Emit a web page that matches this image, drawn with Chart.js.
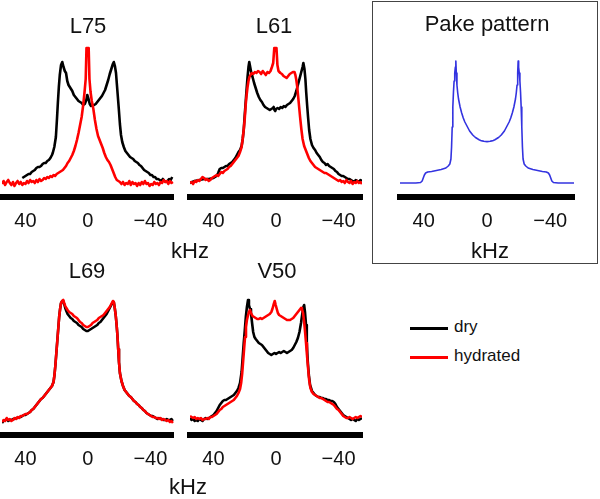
<!DOCTYPE html>
<html>
<head>
<meta charset="utf-8">
<script src="https://cdn.jsdelivr.net/npm/chart.js@4.4.1/dist/chart.umd.min.js"></script>
<style>
  body { margin: 0; background: #fff; }
  #wrap { position: relative; width: 600px; height: 499px; overflow: hidden; font-family: 'Liberation Sans', Arial, sans-serif; color: #111; }
  canvas { position: absolute; }
  .lbl { position: absolute; transform: translate(-50%, -50%); white-space: nowrap; line-height: 1; }
  #pakeBox { position: absolute; left: 372px; top: 1px; width: 226px; height: 263px; border: 1px solid #444; box-sizing: border-box; }
  .legItem { position: absolute; left: 410px; font-size: 17px; }
  .legItem span.sw { position: absolute; left: 0; top: 0; width: 38px; height: 3px; }
  .legItem span.tx { position: absolute; left: 44px; top: 0; transform: translateY(-55%); }
</style>
</head>
<body>
<div id="wrap">
  <div id="pakeBox"></div>
  <canvas id="cL75" width="180" height="245" style="left:0;top:0"></canvas>
  <canvas id="cL61" width="190" height="245" style="left:180px;top:0"></canvas>
  <canvas id="cPake" width="210" height="245" style="left:380px;top:0"></canvas>
  <canvas id="cL69" width="180" height="245" style="left:0;top:238px"></canvas>
  <canvas id="cV50" width="190" height="245" style="left:180px;top:238px"></canvas>
</div>
<script>
// axis ticks (kHz)
const tickValues = [40, 0, -40];
const tickLabels = ['40', '0', '\u221240'];
const seriesNames = ['dry', 'hydrated'];
const seriesColors = ['#000000', '#ff0000'];

// spectra: [frequency kHz, intensity]
const L75_dry = [[42,19],[41,20],[40,21],[39,22],[38,23],[37,23],[36,25],[35,26],[34,27],[33,29],[32,30],[31,30],[30,31],[29,33],[28,34],[27,34],[26,36],[25,37],[24,39],[23,42],[22.5,44],[21.5,50],[20.5,60],[19.8,78],[19.2,95],[18.6,110],[18,122],[17.2,132],[16.4,135],[15.6,130],[14.8,126],[14,124],[13.2,116],[12.4,112],[11.6,110],[10.8,108],[10,106],[9,102],[8,100],[7,98],[6,96],[5,95],[4,94],[3,92],[2,93],[1,97],[0.4,102],[-0.4,98],[-1.2,93],[-2,91],[-3,92],[-4,92],[-5,93],[-6,95],[-7,97],[-8,99],[-9,101],[-10,104],[-11,107],[-12,112],[-13,117],[-14,123],[-15,128],[-16,133],[-16.6,135],[-17.3,131],[-18,124],[-18.6,112],[-19.2,100],[-19.8,88],[-20.5,73],[-21.2,62],[-22,55],[-23,50],[-24,46],[-25,44],[-26,42],[-27,40],[-28,39],[-29,38],[-30,36],[-31,35],[-32,34],[-33,32],[-34,31],[-35,29],[-36,27],[-37,26],[-38,25],[-39,24],[-40,22],[-41,22],[-42,20],[-43,20],[-44,18],[-45,18],[-46,17],[-47,16],[-48,18],[-49,16],[-50,15],[-51,16],[-52,18],[-53,17],[-54,20]];
const L75_hyd = [[55,13],[54,16],[53,12],[52,15],[51,17],[50,14],[49,12],[48,15],[47,11],[46,14],[45,16],[44,13],[43,15],[42,12],[41,14],[40,13],[39,16],[38,14],[37,17],[36,15],[35,16],[34,14],[33,17],[32,15],[31,18],[30,16],[29,17],[28,19],[27,18],[26,20],[25,19],[24,21],[23,20],[22,22],[21,21],[20,23],[19,24],[18,25],[17,26],[16,27],[15,29],[14,31],[13,34],[12,36],[11,39],[10,42],[9,46],[8,51],[7,57],[6,64],[5,72],[4,80],[3,92],[2.2,104],[1.4,118],[0.9,149],[-0.5,149],[-1,118],[-1.7,105],[-2.5,96],[-3.5,88],[-4.5,77],[-5.5,68],[-6.5,61],[-7.5,57],[-8.5,53],[-9.5,49],[-10.5,44],[-11.5,40],[-12.5,37],[-13.5,35],[-14.5,32],[-15.5,28],[-16.5,24],[-17.5,20],[-18.5,17],[-19.5,16],[-20.5,15],[-21.5,13],[-22.5,15],[-23.5,12],[-24.5,14],[-25.5,13],[-26.5,16],[-27.5,12],[-28.5,15],[-29.5,13],[-30.5,14],[-31.5,11],[-32.5,14],[-33.5,12],[-34.5,15],[-35.5,13],[-36.5,16],[-37.5,13],[-38.5,14],[-39.5,11],[-40.5,13],[-41.5,12],[-42.5,15],[-43.5,13],[-44.5,14],[-45.5,12],[-46.5,15],[-47.5,14],[-48.5,17],[-49.5,15],[-50.5,16],[-51.5,13],[-52.5,16],[-53.5,14],[-54.5,15]];

const L61_dry = [[55,14],[52,16],[49,17],[46,18],[43,18],[40,19],[38,21],[37,24],[36,28],[35,29],[34,29],[33,30],[32,31],[31,31],[30,33],[29,34],[28,35],[27,37],[26,39],[25,42],[24,45],[23,47],[22,51],[21.3,58],[20.6,68],[20,82],[19.4,95],[18.8,108],[18.2,120],[17.6,130],[17.1,135],[16.5,130],[15.8,124],[15,120],[14,114],[13,109],[12,104],[11,100],[10,97],[9,95],[8,92],[7,90],[6,89],[5,88],[4,87],[3,88],[2,89],[1.5,90],[1,87],[0.5,86],[0,88],[-1,89],[-2,88],[-3,90],[-4,89],[-5,91],[-6,90],[-7,92],[-8,93],[-9,94],[-10,96],[-11,98],[-12,101],[-13,106],[-14,112],[-15,118],[-16,124],[-17,130],[-17.5,134],[-18.2,128],[-18.8,118],[-19.3,105],[-19.9,92],[-20.5,80],[-21.2,67],[-22,58],[-23,52],[-24,49],[-25,47],[-26,44],[-27,42],[-28,40],[-29,37],[-30,35],[-31,34],[-32,32],[-33,33],[-34,31],[-35,30],[-36,29],[-37,28],[-38,26],[-39,25],[-40,23],[-41,22],[-42,21],[-43,21],[-44,20],[-45,19],[-46,18],[-47,18],[-48,17],[-49,16],[-50,15],[-51,17],[-52,16],[-53,15],[-54,17],[-55,16]];
const L61_hyd = [[55,14],[54,15],[53,13],[52,16],[51,15],[50,17],[49,16],[48,18],[47,20],[46,19],[45,17],[44,18],[43,16],[42,17],[41,19],[40,20],[39,21],[38,22],[37,21],[36,23],[35,25],[34,24],[33,26],[32,27],[31,28],[30,30],[29,31],[28,33],[27,35],[26,37],[25,39],[24,41],[23,45],[22,50],[21.3,58],[20.6,68],[20,78],[19.4,92],[18.8,102],[18.2,110],[17.6,116],[17,120],[16.3,122],[15.5,124],[14.5,123],[13.5,125],[12.5,124],[11.5,126],[10.5,125],[9.5,123],[8.5,126],[7.5,124],[6.5,122],[5.5,125],[4.5,124],[3.5,126],[2.6,130],[1.8,134],[1.1,149],[-0.3,149],[-0.9,132],[-1.6,126],[-2.8,124],[-3.8,123],[-4.8,121],[-5.8,120],[-6.8,119],[-7.8,121],[-8.8,123],[-9.8,124],[-10.8,125],[-11.8,125],[-12.4,122],[-13,117],[-13.6,110],[-14.2,100],[-14.8,90],[-15.4,80],[-16.2,68],[-17,58],[-18,51],[-19,47],[-20,43],[-21,39],[-22,36],[-23,34],[-24,32],[-25,30],[-26,29],[-27,28],[-28,27],[-29,26],[-30,25],[-31,24],[-32,24],[-33,23],[-34,22],[-35,21],[-36,20],[-37,19],[-38,18],[-39,17],[-40,16],[-41,17],[-42,15],[-43,16],[-44,14],[-45,17],[-46,15],[-47,14],[-48,16],[-49,13],[-50,15],[-51,14],[-52,16],[-53,14],[-54,15],[-55,13]];

const pake = [[55,14],[50,14],[45,14],[42,14.5],[41,16],[40.3,19],[39.6,22],[38.8,24],[37.5,25],[35,25.5],[32,26.5],[29,27.5],[26,29],[24.5,31],[23.5,33],[22.8,38],[22.4,50],[22,70],[21.6,90],[21.2,105],[20.8,116],[20.4,124],[20,130],[19.7,136],[19.4,124],[19,112],[18.5,104],[18,98],[17,90],[16,84],[15,79],[14,75],[13,72],[12,69],[11,66],[10,64],[9,62],[8,60.5],[7,59.2],[6,58.2],[5,57.3],[4,56.6],[3,56.1],[2,55.7],[1,55.5],[0,55.4],[-1,55.5],[-2,55.7],[-3,56.1],[-4,56.6],[-5,57.3],[-6,58.2],[-7,59.2],[-8,60.5],[-9,62],[-10,64],[-11,66],[-12,69],[-13,72],[-14,75],[-15,79],[-16,84],[-17,90],[-18,98],[-18.5,104],[-19,112],[-19.4,124],[-19.7,136],[-20,130],[-20.4,124],[-20.8,116],[-21.2,105],[-21.6,90],[-22,70],[-22.4,50],[-22.8,38],[-23.5,33],[-24.5,31],[-26,29],[-29,27.5],[-32,26.5],[-35,25.5],[-37.5,25],[-38.8,24],[-39.6,22],[-40.3,19],[-41,16],[-42,14.5],[-45,14],[-50,14],[-55,14]];

const L69_dry = [[55,12],[54,14],[53,15],[52,16],[51,14],[50,15],[49,15],[48,16],[47,16],[46,17],[45,17],[44,18],[43,18],[42,19],[41,20],[40,20],[39,21],[38,22],[37,23],[36,25],[35,26],[34,28],[33,30],[32,32],[31,34],[30,36],[29,37],[28,39],[27,41],[26,43],[25,45],[24,47],[23,49],[22,53],[21.4,60],[20.8,70],[20.2,82],[19.6,94],[19,106],[18.4,118],[17.8,126],[17.2,132],[16.5,134],[15.8,134],[15.2,131],[14.5,127],[13.8,124],[13,121],[12,119],[11,117],[10,116],[9,114],[8,113],[7,112],[6,110],[5,109],[4,108],[3,106],[2,105],[1,104],[0,104],[-1,105],[-2,106],[-3,107],[-4,108],[-5,109],[-6,110],[-7,112],[-8,113],[-9,115],[-10,117],[-11,119],[-12,121],[-13,124],[-14,127],[-15,130],[-16,133],[-16.6,133],[-17.2,127],[-17.8,120],[-18.4,110],[-18.9,100],[-19.4,86],[-19.9,73],[-20.5,62],[-21.5,54],[-22.5,49],[-23.5,45],[-24.5,43],[-25.5,41],[-26.5,39],[-27.5,38],[-28.5,36],[-29.5,34],[-30.5,33],[-31.5,31],[-32.5,30],[-33.5,28],[-34.5,27],[-35.5,25],[-36.5,24],[-37.5,22],[-38.5,21],[-39.5,20],[-40.5,19],[-41.5,19],[-42.5,18],[-43.5,17],[-44.5,16],[-45.5,17],[-46.5,16],[-47.5,16],[-48.5,15],[-49.5,15],[-50.5,16],[-51.5,15],[-52.5,15],[-53.5,16],[-54.5,14]];
const L69_hyd = [[55,13],[54,15],[53,14],[52,17],[51,15],[50,16],[49,14],[48,15],[47,17],[46,16],[45,18],[44,17],[43,19],[42,19],[41,20],[40,21],[39,21],[38,22],[37,23],[36,25],[35,26],[34,28],[33,30],[32,32],[31,34],[30,36],[29,37],[28,39],[27,41],[26,43],[25,45],[24,47],[23,49],[22,53],[21.4,60],[20.8,70],[20.2,82],[19.6,94],[19,106],[18.4,118],[17.8,126],[17.2,132],[16.5,134],[15.8,135],[15.2,132],[14.5,129],[13.8,127],[13,125],[12,123],[11,122],[10,121],[9,119],[8,118],[7,117],[6,115],[5,113],[4,112],[3,110],[2,109],[1,108],[0,108],[-1,109],[-2,110],[-3,112],[-4,113],[-5,114],[-6,115],[-7,117],[-8,118],[-9,119],[-10,120],[-11,122],[-12,124],[-13,126],[-14,128],[-15,131],[-16,134],[-16.6,133],[-17.2,127],[-17.8,120],[-18.4,110],[-18.9,100],[-19.4,86],[-19.9,73],[-20.5,62],[-21.5,54],[-22.5,49],[-23.5,45],[-24.5,43],[-25.5,41],[-26.5,39],[-27.5,38],[-28.5,36],[-29.5,34],[-30.5,33],[-31.5,31],[-32.5,30],[-33.5,28],[-34.5,27],[-35.5,25],[-36.5,24],[-37.5,22],[-38.5,21],[-39.5,20],[-40.5,19],[-41.5,18],[-42.5,18],[-43.5,17],[-44.5,17],[-45.5,16],[-46.5,17],[-47.5,15],[-48.5,16],[-49.5,15],[-50.5,14],[-51.5,15],[-52.5,13],[-53.5,14],[-54.5,12]];

const V50_dry = [[55,17],[54,15],[53,16],[52,14],[51,15],[50,14],[49,16],[48,15],[47,14],[46,16],[45,17],[44,16],[43,17],[42,18],[41,19],[40,20],[39,22],[38,24],[37,27],[36,30],[35,32],[34,34],[33,35],[32,35],[31,36],[30,37],[29,38],[28,39],[27,40],[26,42],[25,44],[24,47],[23,52],[22,63],[21.3,78],[20.6,93],[20,104],[19.3,118],[18.6,128],[17.9,135],[17.3,130],[16.6,126],[16,122],[15.3,112],[14.6,103],[13.8,98],[13,96],[12,94],[11,92],[10,91],[9,90],[8,88],[7,86],[6,84],[5,82],[4,81],[3,80],[2,81],[1,82],[0,81],[-1,82],[-2,83],[-3,82],[-4,83],[-5,84],[-6,83],[-7,82],[-8,83],[-9,84],[-10,85],[-11,87],[-12,90],[-13,93],[-14,97],[-15,103],[-16,112],[-16.8,121],[-17.5,128],[-18,130],[-18.6,122],[-19.2,110],[-19.7,92],[-20.3,74],[-21,60],[-21.8,50],[-23,44],[-24,42],[-25,40],[-26,39],[-27,38],[-28,38],[-29,37],[-30,37],[-31,36],[-32,36],[-33,35],[-34,35],[-35,34],[-36,34],[-37,33],[-38,31],[-39,28],[-40,26],[-41,24],[-42,22],[-43,20],[-44,19],[-45,18],[-46,17],[-47,16],[-48,15],[-49,16],[-50,15],[-51,14],[-52,16],[-53,15],[-54,16],[-55,17]];
const V50_hyd = [[55,19],[54,18],[53,17],[52,18],[51,16],[50,17],[49,16],[48,17],[47,15],[46,16],[45,16],[44,17],[43,16],[42,18],[41,18],[40,19],[39,20],[38,21],[37,23],[36,25],[35,26],[34,28],[33,29],[32,30],[31,31],[30,32],[29,33],[28,34],[27,35],[26,37],[25,39],[24,42],[23,46],[22.3,52],[21.6,62],[21,74],[20.4,86],[19.8,98],[19.2,108],[18.6,115],[18,119],[17.3,123],[16.7,125],[16,122],[15,119],[14,118],[13,117],[12,116],[11,116],[10,117],[9,116],[8,117],[7,118],[6,119],[5,120],[4,121],[3,123],[2.3,126],[1.6,130],[0.8,134],[0.2,130],[-0.5,126],[-1.2,122],[-2,120],[-3,119],[-4,118],[-5,117],[-6,116],[-7,115],[-8,115],[-9,115],[-10,116],[-11,117],[-12,119],[-13,121],[-14,123],[-15,125],[-16,127],[-16.6,126],[-17.3,122],[-18,113],[-18.6,103],[-19.2,92],[-19.8,80],[-20.5,67],[-21.2,55],[-22,47],[-23,43],[-24,41],[-25,40],[-26,39],[-27,38],[-28,37],[-29,37],[-30,36],[-31,35],[-32,34],[-33,33],[-34,33],[-35,32],[-36,31],[-37,30],[-38,28],[-39,26],[-40,25],[-41,23],[-42,21],[-43,19],[-44,18],[-45,17],[-46,17],[-47,18],[-48,17],[-49,16],[-50,17],[-51,18],[-52,17],[-53,18],[-54,19],[-55,18]];

const FONT = "'Liberation Sans', Arial, sans-serif";

function toXY(arr) {
  return arr.map(p => ({ x: p[0], y: p[1] }));
}

function makePanel(id, datasets, padL, padR) {
  const ctx = document.getElementById(id).getContext('2d');
  return new Chart(ctx, {
    type: 'line',
    data: { datasets },
    options: {
      responsive: false,
      animation: false,
      devicePixelRatio: 1,
      layout: { padding: { left: padL, right: padR, top: 40, bottom: 0 } },
      elements: { point: { radius: 0 }, line: { tension: 0, borderJoinStyle: 'round' } },
      plugins: { legend: { display: false }, tooltip: { enabled: false }, title: { display: false } },
      scales: {
        x: {
          type: 'linear',
          min: -55,
          max: 55,
          reverse: true,
          grid: { display: false, drawTicks: false },
          border: { display: true, color: '#000', width: 6 },
          afterBuildTicks: s => { s.ticks = tickValues.map(v => ({ value: v })); },
          ticks: {
            padding: 12,
            maxRotation: 0,
            autoSkip: false,
            color: '#111',
            font: { family: FONT, size: 20 },
            callback: v => tickLabels[tickValues.indexOf(v)]
          }
        },
        y: { display: false, min: 0, max: 157 }
      }
    }
  });
}

function pair(dry, hyd) {
  return [
    { label: seriesNames[0], data: toXY(dry), borderColor: seriesColors[0], borderWidth: 2.6, order: 1 },
    { label: seriesNames[1], data: toXY(hyd), borderColor: seriesColors[1], borderWidth: 2.6, order: 0 }
  ];
}

makePanel('cL75', pair(L75_dry, L75_hyd), 2, 5);
makePanel('cL61', pair(L61_dry, L61_hyd), 10, 8);
makePanel('cPake', [{ label: 'Pake pattern', data: toXY(pake), borderColor: '#3333e0', borderWidth: 1.6 }], 20, 16);
makePanel('cL69', pair(L69_dry, L69_hyd), 2, 5);
makePanel('cV50', pair(V50_dry, V50_hyd), 10, 8);

// text labels
const wrap = document.getElementById('wrap');
function addLabel(text, x, y, size) {
  const d = document.createElement('div');
  d.className = 'lbl';
  d.textContent = text;
  d.style.left = x + 'px';
  d.style.top = y + 'px';
  d.style.fontSize = size + 'px';
  wrap.appendChild(d);
}
addLabel('L75', 88, 26, 22);
addLabel('L61', 274, 26, 22);
addLabel('Pake pattern', 487, 24, 22);
addLabel('L69', 87, 271, 22);
addLabel('V50', 277, 271, 22);
addLabel('kHz', 190, 251, 22);
addLabel('kHz', 490, 251, 22);
addLabel('kHz', 188, 487, 22);

// legend
seriesNames.forEach((name, i) => {
  const it = document.createElement('div');
  it.className = 'legItem';
  it.style.top = (328 + i * 29) + 'px';
  it.innerHTML = '<span class="sw"></span><span class="tx"></span>';
  it.querySelector('.sw').style.background = seriesColors[i];
  it.querySelector('.sw').style.top = '-1px';
  it.querySelector('.tx').textContent = name;
  wrap.appendChild(it);
});
</script>
</body>
</html>
